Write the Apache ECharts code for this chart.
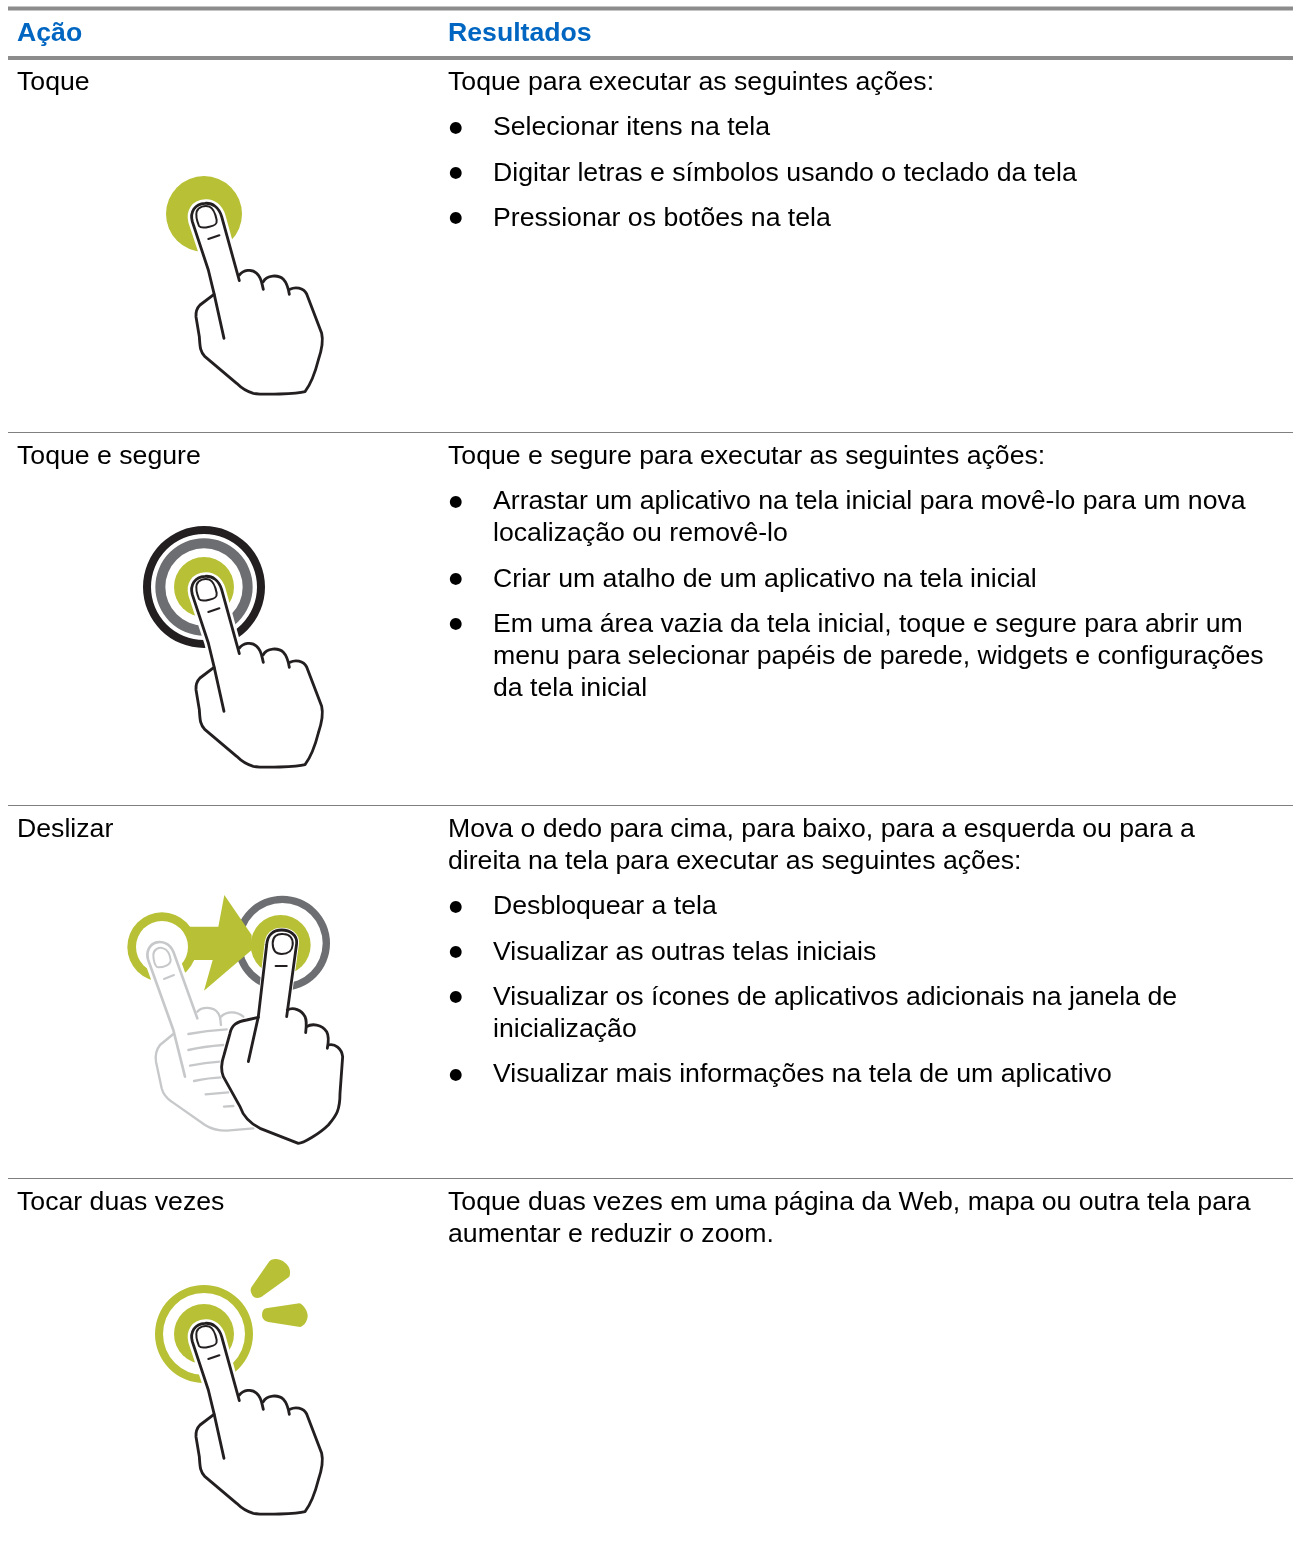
<!DOCTYPE html>
<html lang="pt"><head><meta charset="utf-8">
<style>html,body{margin:0;padding:0;background:#fff}#c{width:1293px;height:1544px}</style>
<script src="https://cdn.jsdelivr.net/npm/echarts@6/dist/echarts.min.js"></script>
</head><body><div id="c"></div>
<script>
const headers = ['Ação', 'Resultados'];
const actions = ['Toque', 'Toque e segure', 'Deslizar', 'Tocar duas vezes'];
const leads = [
  ['Toque para executar as seguintes ações:'],
  ['Toque e segure para executar as seguintes ações:'],
  ['Mova o dedo para cima, para baixo, para a esquerda ou para a', 'direita na tela para executar as seguintes ações:'],
  ['Toque duas vezes em uma página da Web, mapa ou outra tela para', 'aumentar e reduzir o zoom.']
];
const bullets = [
  [['Selecionar itens na tela'], ['Digitar letras e símbolos usando o teclado da tela'], ['Pressionar os botões na tela']],
  [['Arrastar um aplicativo na tela inicial para movê-lo para um nova', 'localização ou removê-lo'], ['Criar um atalho de um aplicativo na tela inicial'],
   ['Em uma área vazia da tela inicial, toque e segure para abrir um', 'menu para selecionar papéis de parede, widgets e configurações', 'da tela inicial']],
  [['Desbloquear a tela'], ['Visualizar as outras telas iniciais'], ['Visualizar os ícones de aplicativos adicionais na janela de', 'inicialização'], ['Visualizar mais informações na tela de um aplicativo']],
  []
];

const rowTops = [59, 433, 806, 1179];
const GREEN = '#b8c135', GREY = '#6d6e71', BLACK = '#231f20', PALE = '#c6c8ca';
const FONT = '26.67px "Liberation Sans", Arial, sans-serif';
const BOLD = 'bold 26.67px "Liberation Sans", Arial, sans-serif';
const graphics = [];
function txt(s, x, y, font, fill) {
  graphics.push({type:'text', x, y, silent:true, style:{text:s, font, fill, align:'left', verticalAlign:'middle'}});
}
function rule(x1, x2, y, w, c) {
  graphics.push({type:'rect', silent:true, shape:{x:x1, y:y, width:x2-x1, height:w}, style:{fill:c}});
}
rule(8, 1293, 6.5, 4, '#8c8c8c');
rule(8, 1293, 56, 4, '#8c8c8c');
[432, 805, 1178].forEach(y => rule(8, 1293, y, 1, '#808080'));
txt(headers[0], 17, 34, BOLD, '#0066c1');
txt(headers[1], 448, 34, BOLD, '#0066c1');
actions.forEach((a, i) => {
  const base = rowTops[i] + 23.7;
  txt(a, 17, base, FONT, '#000');
  let y = base;
  leads[i].forEach(l => { txt(l, 448, y, FONT, '#000'); y += 32; });
  bullets[i].forEach(b => {
    y += 13.33;
    txt('●', 449, y - 0.5, '15.5px "DejaVu Sans"', '#000');
    b.forEach(l => { txt(l, 493, y, FONT, '#000'); y += 32; });
  });
});

// Hand artwork (drawn at 3x and scaled down by its group)
const K = {
  finger: 'M268,362 L215,170 C207,142 187,128 165,130 C135,132 119,155 127,185 L175,330 L192,400 L222,535',
  fingerFill: 'M268,362 L215,170 C207,142 187,128 165,130 C135,132 119,155 127,185 L175,330 L192,400 L222,535 Z',
  nail: 'M147,198 C140,180 137,165 140,155 C145,140 165,135 178,140 C192,146 197,165 200,180 C202,195 190,198 178,200 C165,203 152,205 147,198 Z',
  crease: 'M175,237 L208,226',
  k1: 'M268,345 C280,330 305,325 320,340 C335,352 335,370 340,388',
  k2: 'M340,365 C350,345 385,343 400,358 C412,370 415,385 418,403',
  body: 'M420,388 C435,380 460,382 470,402 L515,520 C520,540 515,570 505,600 C495,640 480,675 465,695 C440,702 340,705 310,700 C290,695 275,685 260,670 L165,590 C150,575 150,560 148,530 L138,470 C137,455 140,445 150,435 L192,403'
};
const S = {
  arrow: 'M170,140 L295,140 L313,45 L395,165 L395,210 L252,332 L278,240 L170,240 Z',
  paleFill: 'M232,415 L160,215 C150,192 130,183 110,187 C88,192 78,215 84,238 L160,450 L195,590 Z',
  paleFinger: 'M232,415 L160,215 C150,192 130,183 110,187 C88,192 78,215 84,238 L160,450 L195,590',
  paleNail: 'M100,225 C100,210 115,200 130,205 C145,210 150,225 152,240 C152,255 130,262 115,262 C105,262 100,240 100,225 Z',
  paleCrease: 'M132,297 L162,285',
  paleK1: 'M232,395 C245,380 280,378 295,400 C305,415 300,425 303,435',
  paleK2: 'M303,410 C320,393 350,393 370,410',
  paleBody: 'M160,462 L120,495 C108,510 105,525 108,545 L125,625 C130,645 140,655 155,665 L255,735 C275,748 295,752 320,752 L400,745',
  paleLines: ['M205,462 C240,455 280,450 320,448','M205,510 C235,503 270,498 310,495','M210,557 C235,552 270,547 300,545','M222,603 C245,598 275,593 305,592','M257,643 L325,637','M312,680 L340,678'],
  fill: 'M500,410 L530,190 C532,165 510,150 485,150 C460,150 442,165 440,195 L415,412 L380,420 C350,425 335,435 330,460 L312,525 C305,545 300,565 310,590 L360,680 C370,710 390,730 420,745 L535,790 C550,790 600,760 625,735 C650,705 660,690 660,640 L668,530 C665,505 645,490 625,495 L620,455 C605,432 575,430 560,440 L555,410 C545,390 520,380 502,390 Z',
  fingerOuter: 'M500,410 L530,190 C532,165 510,150 485,150 C460,150 442,165 440,195 L415,410 L385,545',
  nail: 'M458,190 C458,170 470,160 490,162 C510,163 520,175 518,195 C516,215 505,222 485,222 C465,222 458,210 458,190 Z',
  crease: 'M467,258 L500,258',
  k1: 'M502,390 C520,380 545,390 555,410 C562,425 558,445 557,458',
  k2: 'M560,440 C575,430 605,432 620,455 C628,470 625,490 622,505',
  body: 'M625,495 C645,490 665,505 668,530 L660,640 C660,690 650,705 625,735 C600,760 550,790 535,790 L420,745 C390,730 370,710 360,680 L310,590 C300,565 305,545 312,525 L330,460 C335,435 350,425 380,420 L415,412'
};
const R = {
  ray1: 'M334,112 L385,38 C395,22 420,25 435,38 C450,50 453,65 448,80 L368,138 C355,148 340,145 335,132 C331,124 331,118 334,112 Z',
  ray2: 'M378,175 L478,160 C490,162 503,185 503,197 C503,212 492,228 480,231 L385,216 C372,213 366,205 366,195 C366,185 370,177 378,175 Z'
};
const stroke = (d, c, w) => ({type:'path', shape:{pathData:d}, style:{fill:null, stroke:c, lineWidth:w, lineCap:'round', lineJoin:'round'}});
const solid = (d, c) => ({type:'path', shape:{pathData:d}, style:{fill:c, stroke:null}});
const disc = (cx, cy, r, c) => ({type:'circle', shape:{cx, cy, r}, style:{fill:c}});
const ring = (cx, cy, r, r0, c) => ({type:'ring', shape:{cx, cy, r, r0}, style:{fill:c}});
const hand = () => [
  {type:'path', shape:{pathData:K.fingerFill}, style:{fill:'#fff', stroke:'#fff', lineWidth:24, lineJoin:'round'}},
  stroke(K.finger, BLACK, 8.5), stroke(K.nail, BLACK, 6), stroke(K.crease, BLACK, 6.5),
  stroke(K.k1, BLACK, 8.5), stroke(K.k2, BLACK, 8.5), stroke(K.body, BLACK, 8.5)
];
const at = (x, y, children) => ({type:'group', x, y, scaleX:1/3, scaleY:1/3, children});
function icons() {
  return {type:'group', children:[
    at(150, 160, [disc(162, 162, 114, GREEN), ...hand()]),
    at(150, 533, [ring(162, 162, 183, 159, BLACK), ring(162, 162, 146, 116, GREY), disc(162, 162, 90, GREEN), ...hand()]),
    at(120, 880, [
      ring(487, 190, 143, 121, GREY), disc(482, 195, 90, GREEN),
      solid(S.arrow, GREEN), disc(126, 201, 104, GREEN), disc(126, 201, 78, '#fff'),
      {type:'path', shape:{pathData:S.paleFill}, style:{fill:'#fff', stroke:'#fff', lineWidth:24, lineJoin:'round'}},
      stroke(S.paleFinger, PALE, 8), stroke(S.paleNail, PALE, 6), stroke(S.paleCrease, PALE, 6),
      stroke(S.paleK1, PALE, 7), stroke(S.paleK2, PALE, 7), stroke(S.paleBody, PALE, 7),
      ...S.paleLines.map(d => stroke(d, PALE, 7)),
      {type:'path', shape:{pathData:S.fill}, style:{fill:'#fff', stroke:'#fff', lineWidth:14, lineJoin:'round'}},
      stroke(S.fingerOuter, BLACK, 8.5), stroke(S.nail, BLACK, 6), stroke(S.crease, BLACK, 6.5),
      stroke(S.k1, BLACK, 8.5), stroke(S.k2, BLACK, 8.5), stroke(S.body, BLACK, 8.5)
    ]),
    at(150, 1280, [ring(162, 162, 147, 123, GREEN), disc(162, 162, 90, GREEN), ...hand(),
      {type:'group', x:-30, y:-90, children:[solid(R.ray1, GREEN), solid(R.ray2, GREEN)]}])
  ]};
}
const chart = echarts.init(document.getElementById('c'), null, {renderer:'canvas'});
chart.setOption({
  animation:false,
  backgroundColor:'#fff',
  graphic:{elements:graphics},
  series:[{type:'custom', coordinateSystem:'none', silent:true, clip:false, data:[[0]], renderItem:() => icons()}]
});
</script></body></html>
